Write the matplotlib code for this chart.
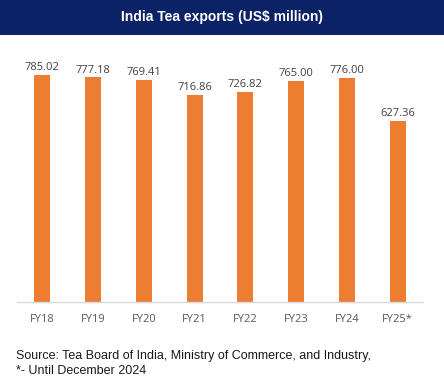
import matplotlib
matplotlib.use("Agg")
import matplotlib.pyplot as plt
from matplotlib.patches import Rectangle

categories = ["FY18", "FY19", "FY20", "FY21", "FY22", "FY23", "FY24", "FY25*"]
values = [785.02, 777.18, 769.41, 716.86, 726.82, 765.00, 776.00, 627.36]
value_labels = ["785.02", "777.18", "769.41", "716.86", "726.82", "765.00", "776.00", "627.36"]

W, H = 444, 388
fig = plt.figure(figsize=(W / 100, H / 100), dpi=100)

# header band
fig.patches.append(Rectangle((0, 1 - 35 / H), 1, 35 / H, transform=fig.transFigure,
                             facecolor="#0c2266", edgecolor="none", zorder=0))
fig.text(0.5, 1 - 17 / H, "India Tea exports (US$ million)", ha="center", va="center",
         color="white", fontsize=10, fontweight="bold", family="Liberation Sans")

ax = fig.add_axes([17 / W, 86 / H, (423 - 17) / W, (302 - 42) / H])
x = range(len(categories))
ax.bar(x, values, width=0.32, color="#ED7D31", edgecolor="none", zorder=2)
ax.set_xlim(-0.5, len(categories) - 0.5)
ax.set_ylim(0, 900)
for i, (v, lab) in enumerate(zip(values, value_labels)):
    ax.text(i, v + 6, lab, ha="center", va="bottom", fontsize=8, color="#404040",
            family="Open Sans")
ax.set_xticks(list(x))
ax.set_xticklabels(categories, fontsize=8, color="#595959", family="Open Sans")
ax.tick_params(axis="x", length=0, pad=9)
ax.set_yticks([])
for s in ["top", "right", "left"]:
    ax.spines[s].set_visible(False)
ax.spines["bottom"].set_color("#d9d9d9")
ax.spines["bottom"].set_linewidth(1)

fig.text(16 / W, 1 - 356 / H, "Source: Tea Board of India, Ministry of Commerce, and Industry,",
         ha="left", va="center", fontsize=9, color="#1a1a1a", family="Liberation Sans")
fig.text(16 / W, 1 - 371 / H, "*- Until December 2024",
         ha="left", va="center", fontsize=9, color="#1a1a1a", family="Liberation Sans")

fig.savefig("out.png", dpi=100)
